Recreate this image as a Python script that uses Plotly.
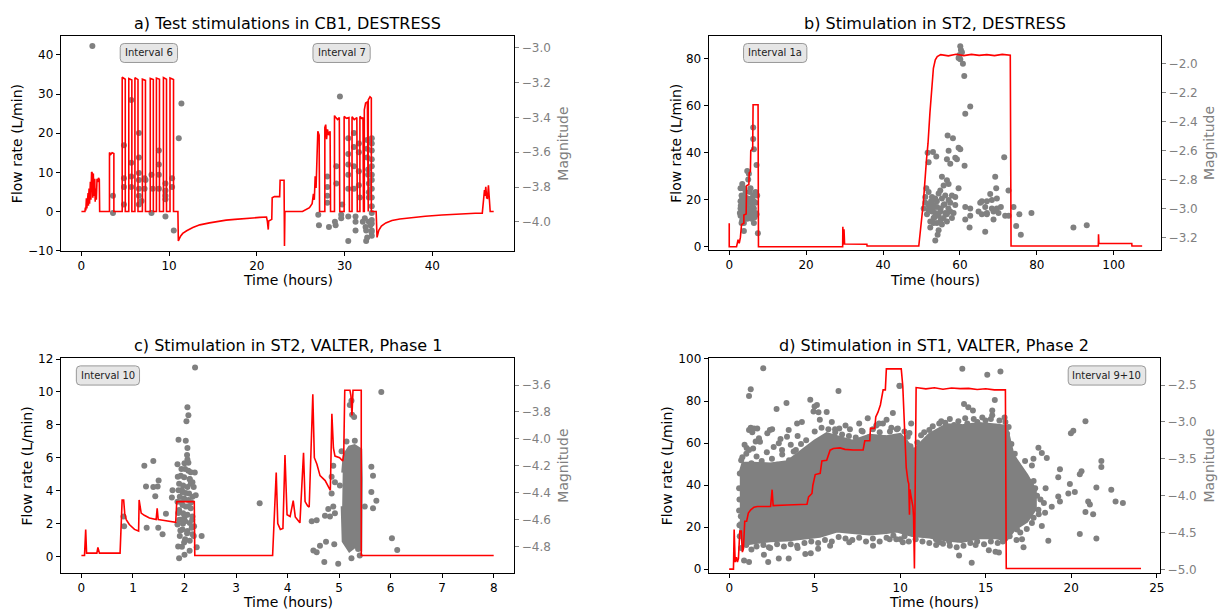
import plotly.graph_objects as go

W, H = 1221, 612

# ---------------- data ----------------
titles = ["a) Test stimulations in CB1, DESTRESS", "b) Stimulation in ST2, DESTRESS",
          "c) Stimulation in ST2, VALTER, Phase 1", "d) Stimulation in ST1, VALTER, Phase 2"]
interval_labels = ["Interval 6", "Interval 7", "Interval 1a", "Interval 10", "Interval 9+10"]
x_label = "Time (hours)"
flow_label = "Flow rate (L/min)"
mag_label = "Magnitude"

# panel a: flow rate (time h, L/min)
a_flow = [(0,0),(0.4,0),(0.45,1.0),(0.5,0.3),(0.57,3.4),(0.62,0.8),(0.76,4.7),(0.8,1.5),(0.87,5.9),(0.93,2.0),
          (1.02,7.6),(1.08,3.0),(1.16,10.1),(1.25,9.8),(1.3,3.5),(1.36,9.7),(1.42,4.0),(1.52,8.4),(1.57,2.5),
          (1.63,5.9),(1.7,3.0),(1.78,8.4),(1.85,7.5),(1.95,8.6),(2.04,8.2),(2.08,0),(3.2,0),(3.2,15.1),(3.35,14.6),
          (3.5,15.0),(3.7,14.8),(3.7,0),
          (4.65,0),(4.65,34.3),(4.8,34.0),(5.0,33.8),(5.0,0),
          (5.4,0),(5.4,34.0),(5.55,33.8),(5.75,33.6),(5.75,0),
          (6.1,0),(6.1,34.2),(6.3,33.9),(6.45,33.7),(6.45,0),
          (6.95,0),(6.95,33.8),(7.1,33.6),(7.3,33.5),(7.3,0),
          (7.85,0),(7.85,34.0),(8.0,33.8),(8.2,33.7),(8.2,0),
          (8.55,0),(8.55,34.1),(8.7,33.9),(8.9,33.8),(8.9,0),
          (9.35,0),(9.35,34.2),(9.5,34.0),(9.7,33.8),(9.7,0),
          (10.1,0),(10.1,34.1),(10.3,33.9),(10.5,33.7),(10.5,0),
          (11.0,0),(11.05,-7.5),(11.3,-6.3),(11.55,-5.6),(12.0,-4.9),(12.7,-4.1),(13.5,-3.4),(14.6,-2.9),
          (15.5,-2.5),(16.5,-2.2),(17.5,-2.0),(18.4,-1.8),(19.5,-1.65),(20.3,-1.5),(21.1,-1.4),(21.2,-2.5),
          (21.3,-4.6),(21.35,-2.4),(21.7,-2.0),(21.75,3.5),(22.0,3.8),(22.6,3.8),(22.65,8.0),(23.1,8.0),
          (23.15,-8.8),(23.2,0),(25.2,0),(25.6,0.5),(26.0,1.0),(26.3,2.0),(26.45,4.5),(26.55,3.0),(26.65,9.0),
          (26.75,6.0),(26.85,15.0),(26.95,20.5),(27.1,19.5),(27.15,0),
          (27.75,0),(27.75,21.5),(27.85,22.2),(27.95,18.5),(28.05,21.0),(28.2,19.5),(28.35,20.5),(28.4,0),
          (28.85,0),(28.85,24.5),(29.0,24.0),(29.2,23.5),(29.4,24.0),(29.45,0),
          (29.95,0),(29.95,24.3),(30.2,23.8),(30.5,24.0),(30.55,0),
          (30.85,0),(30.85,24.2),(31.1,23.5),(31.4,24.0),(31.45,0),
          (31.75,0),(31.75,24.3),(31.95,23.8),(32.1,24.0),(32.15,0),
          (32.25,0),(32.25,26.0),(32.4,27.7),(32.6,28.0),(32.62,0),
          (32.7,0),(32.7,28.5),(32.9,29.3),(33.05,29.0),(33.05,0),
          (33.6,0),(33.7,-6.6),(33.9,-4.8),(34.2,-3.7),(34.7,-2.9),(35.4,-2.3),(36.3,-1.9),(37.3,-1.6),
          (39.2,-1.2),(41.1,-0.9),(43.0,-0.6),(44.9,-0.45),(45.7,-0.4),(45.8,2.0),(45.95,5.5),(46.0,4.0),
          (46.1,6.3),(46.2,3.5),(46.3,3.4),(46.4,6.7),(46.5,3.0),(46.6,0),(47.0,0)]

# panel a: events (time h, magnitude)
a_events = [(1.25,-2.99),(3.6,-3.85),(3.6,-3.95),(4.85,-3.56),(4.85,-3.75),(4.85,-3.80),(4.85,-3.90),
            (5.68,-3.30),(5.68,-3.66),(5.68,-3.74),(5.68,-3.80),(6.55,-3.49),(6.55,-3.63),(6.55,-3.72),
            (6.55,-3.76),(6.55,-3.81),(6.55,-3.85),(6.55,-3.90),(6.86,-3.88),(7.2,-3.75),(7.2,-3.81),
            (7.31,-3.76),(7.99,-3.73),(7.99,-3.95),(8.14,-3.81),(8.83,-3.59),(8.83,-3.67),(8.83,-3.73),
            (8.83,-3.81),(9.58,-3.78),(9.58,-3.82),(9.58,-3.85),(9.58,-3.87),(9.58,-3.97),(10.34,-3.75),
            (10.34,-3.80),(10.53,-4.05),(11.1,-3.52),(11.4,-3.32),
            (27.0,-3.96),(27.08,-4.02),(28.03,-3.74),(28.03,-3.80),(28.03,-3.85),(28.03,-3.89),(28.22,-4.03),
            (28.9,-4.0),(28.98,-4.02),(29.47,-3.28),(29.06,-3.68),(29.06,-3.78),(29.62,-3.96),(29.62,-3.98),
            (29.73,-3.90),(30.42,-3.52),(30.42,-3.61),(30.42,-3.67),(30.42,-3.73),(30.42,-3.81),(30.42,-3.97),
            (30.42,-4.11),(31.06,-3.49),(31.06,-3.57),(31.06,-3.68),(31.06,-3.81),(31.25,-3.97),(31.25,-4.0),
            (31.25,-4.05),(31.63,-3.55),(31.63,-3.60),(31.63,-3.71),(31.63,-3.79),(31.74,-3.86),(32.08,-4.0),
            (32.31,-3.98),(32.39,-4.03),(32.46,-4.11),(32.58,-4.09),(32.46,-4.05),(32.58,-3.53),(32.58,-3.58),
            (32.58,-3.63),(32.69,-3.70),(32.69,-3.73),(32.77,-3.78),(32.77,-3.83),(32.77,-3.86),(33.1,-3.52),
            (33.1,-3.55),(33.1,-3.59),(33.1,-3.64),(33.1,-3.68),(33.1,-3.73),(33.1,-3.76),(33.1,-3.81),
            (33.1,-3.86),(33.1,-3.91),(33.1,-3.95),(33.1,-3.99),(33.1,-4.01),(33.1,-4.05),(33.1,-4.08),
            (32.95,-4.02),(33.07,-4.06),(32.77,-4.0)]

# panel b
b_flow = [(0,10),(0,0),(1.9,0),(2.0,1),(2.3,3),(2.6,1.5),(2.9,4),(3.2,9.5),(3.8,10),(3.8,13.5),(4.4,14),
          (4.5,26),(5.1,26.5),(5.2,31.5),(5.5,32),(5.6,41),(6.1,41.5),(6.2,60.5),(7.5,60.5),(7.6,0),(29.5,0),
          (29.55,8.5),(29.6,1),(29.7,8.0),(29.75,1.5),(29.85,7.5),(30.0,1.2),(35.8,1.1),(35.85,0.3),(49.3,0.3),
          (49.8,8),(50.5,19),(51.3,37),(51.7,44),(52.2,57),(52.7,67),(53.1,76),(53.6,79.6),(54.1,81),(55.0,81.8),
          (57.0,81.3),(59.0,82.0),(61.0,81.4),(63.0,81.9),(65.0,81.5),(67.0,81.8),(69.0,81.4),(71.0,81.9),
          (73.1,81.6),(73.3,0.3),(96.0,0.4),(96.05,5.3),(96.15,1.5),(104.7,1.4),(104.75,0.3),(107.4,0.3)]

b_events = [(6.23,-2.44),(6.23,-2.52),(6.41,-2.59),(7.1,-2.70),(4.68,-2.74),(5.11,-2.76),(4.94,-2.80),
            (3.38,-2.83),(3.81,-2.86),(3.2,-2.91),(2.94,-2.95),(3.38,-2.975),(3.81,-2.975),(4.24,-2.95),
            (4.68,-2.94),(5.11,-2.96),(5.54,-2.95),(5.97,-2.94),(6.41,-2.95),(6.84,-2.96),(2.94,-3.0),
            (3.38,-3.02),(3.81,-3.04),(4.24,-3.0),(4.68,-3.03),(5.11,-3.01),(5.54,-3.02),(5.97,-2.99),
            (6.41,-3.0),(6.84,-3.03),(7.1,-3.04),(2.94,-3.05),(3.38,-3.08),(3.81,-3.10),(4.68,-3.07),
            (5.54,-3.05),(5.97,-3.04),(6.41,-3.10),(3.81,-3.155),(7.27,-2.91),(6.84,-2.885),(6.23,-2.91),
            (7.45,-3.17),(5.54,-2.86),(5.97,-2.93),(5.37,-2.885),(3.38,-2.93),(4.24,-2.885),(2.77,-3.03),
            (3.64,-2.99),(4.5,-2.975),(3.2,-3.10),(2.94,-2.86),(4.85,-2.93),(3.0,-2.98),(3.6,-3.06),
            (4.0,-3.02),(4.4,-3.06),(5.3,-3.0),(5.8,-3.07),(6.6,-3.06),(4.1,-2.92),(6.0,-2.97),
            (60.09,-1.88),(60.26,-1.905),(60.52,-1.92),(59.91,-1.94),(59.65,-1.96),(60.09,-1.97),(60.78,-2.0),
            (61.13,-2.085),(62.68,-2.295),(61.39,-2.345),(56.8,-2.495),(58.18,-2.515),(59.65,-2.58),
            (60.09,-2.59),(57.06,-2.60),(52.99,-2.61),(51.6,-2.615),(53.85,-2.64),(56.62,-2.66),(58.79,-2.65),
            (59.22,-2.66),(57.49,-2.69),(51.86,-2.68),(61.21,-2.705),(71.52,-2.645),(69.18,-2.78),(55.32,-2.78),
            (56.62,-2.805),(55.76,-2.84),(57.06,-2.83),(51.26,-2.86),(54.89,-2.875),(59.65,-2.86),(69.44,-2.86),
            (72.64,-2.875),(51.86,-2.885),(54.46,-2.896),(56.19,-2.91),(57.92,-2.91),(58.79,-2.92),(67.88,-2.90),
            (52.73,-2.92),(53.59,-2.93),(55.32,-2.93),(57.06,-2.94),(65.71,-2.95),(67.01,-2.95),(68.31,-2.94),
            (69.61,-2.93),(51.0,-2.96),(51.86,-2.975),(53.16,-2.975),(54.03,-2.99),(55.76,-2.975),(57.49,-2.96),
            (58.79,-2.975),(61.39,-2.99),(62.68,-3.0),(65.28,-2.96),(66.58,-2.99),(68.31,-3.0),(69.61,-3.0),
            (70.65,-2.99),(73.94,-2.99),(51.86,-3.01),(52.73,-3.02),(53.59,-3.03),(54.89,-3.02),(56.19,-3.03),
            (57.49,-3.02),(58.35,-3.03),(64.85,-3.02),(65.71,-3.04),(67.01,-3.03),(68.74,-3.02),(70.04,-3.03),
            (72.68,-3.05),(75.45,-3.04),(78.61,-3.03),(51.43,-3.04),(53.16,-3.065),(54.46,-3.05),(55.76,-3.065),
            (56.62,-3.09),(57.92,-3.065),(61.39,-3.075),(62.68,-3.05),(67.01,-3.04),(68.74,-3.075),(71.77,-3.05),
            (52.29,-3.09),(54.03,-3.10),(55.32,-3.11),(62.51,-3.13),(66.58,-3.16),(74.63,-3.12),(75.84,-3.18),
            (54.46,-3.15),(54.2,-3.18),(53.59,-3.22),(89.52,-3.13),(92.99,-3.115),(50.57,-3.0),(51.0,-2.92),
            (52.29,-3.13),(53.16,-3.10),(52.0,-2.99),(53.0,-3.0),(54.0,-2.95),(55.0,-3.0),(56.0,-2.97),
            (57.0,-3.0),(53.4,-3.06),(55.0,-3.08),(56.6,-3.04),(52.5,-2.95)]

# panel c
c_flow = [(0,0.06),(0.06,0.06),(0.083,1.64),(0.1,0.2),(0.3,0.2),(0.32,0.55),(0.35,0.2),(0.75,0.2),(0.79,3.43),
          (0.82,3.43),(0.84,2.63),(0.87,2.24),(0.93,1.94),(1.03,1.64),(1.11,1.54),(1.12,3.43),(1.16,2.63),
          (1.22,2.5),(1.32,2.34),(1.45,2.24),(1.47,2.93),(1.49,2.24),(1.58,2.2),(1.7,2.14),(1.83,2.08),
          (1.85,3.33),(2.19,3.33),(2.2,0.06),(3.71,0.06),(3.78,5.1),(3.81,2.0),(3.86,1.64),(3.91,1.7),
          (3.95,6.16),(3.99,2.53),(4.05,2.43),(4.11,3.39),(4.15,2.4),(4.21,2.14),(4.24,2.04),(4.31,6.3),
          (4.34,3.33),(4.39,3.07),(4.42,3.0),(4.49,9.86),(4.52,6.0),(4.57,5.6),(4.63,4.91),(4.73,4.61),
          (4.79,4.22),(4.83,4.02),(4.86,8.67),(4.89,6.59),(4.92,6.1),(5.01,6.0),(5.07,5.8),(5.09,6.2),
          (5.11,10.1),(5.21,10.1),(5.23,9.76),(5.25,8.57),(5.27,10.1),(5.43,10.1),(5.43,0.06),(8.0,0.06)]

c_events = [(2.205,-3.47),(2.057,-3.765),(2.076,-3.825),(2.038,-3.869),(1.884,-4.007),(2.025,-4.014),
            (2.057,-4.067),(2.057,-4.152),(2.076,-4.176),(1.864,-4.188),(1.941,-4.224),(2.012,-4.224),
            (2.076,-4.236),(2.121,-4.248),(1.928,-4.273),(1.993,-4.285),(2.102,-4.297),(2.154,-4.321),
            (1.896,-4.333),(1.974,-4.345),(2.057,-4.357),(2.121,-4.333),(2.179,-4.357),(1.768,-4.381),
            (1.884,-4.381),(1.961,-4.394),(2.025,-4.401),(2.089,-4.406),(2.218,-4.418),(1.909,-4.43),
            (1.993,-4.442),(2.076,-4.454),(2.154,-4.43),(1.864,-4.466),(1.961,-4.49),(2.025,-4.502),
            (2.121,-4.515),(1.896,-4.527),(1.974,-4.551),(2.057,-4.563),(2.154,-4.575),(1.928,-4.6),
            (2.012,-4.612),(2.102,-4.624),(2.186,-4.648),(1.864,-4.636),(1.961,-4.672),(2.057,-4.684),
            (2.154,-4.708),(1.909,-4.72),(2.012,-4.744),(2.102,-4.756),(1.993,-4.769),(1.877,-4.798),
            (1.896,-4.885),(2.237,-4.805),(2.333,-4.72),(1.221,-4.2),(1.395,-4.164),(1.498,-4.309),
            (1.479,-4.353),(1.395,-4.357),(1.253,-4.353),(1.433,-4.425),(0.816,-4.575),(0.829,-4.648),
            (1.64,-4.556),(1.266,-4.66),(1.491,-4.66),(1.575,-4.708),(1.755,-4.435),
            (1.88,-4.55),(2.0,-4.58),(2.15,-4.6),(1.92,-4.68),(2.05,-4.7),(2.18,-4.72),(1.95,-4.8),
            (2.1,-4.83),(2.0,-4.86),(1.9,-4.6),(2.08,-4.5),(1.95,-4.38),(2.1,-4.3),(2.2,-4.25),(1.87,-4.28),
            (2.05,-4.12),(2.0,-4.18),(1.94,-4.47),(2.13,-4.47),(1.97,-4.63),(2.14,-4.66),
            (5.819,-3.651),(3.459,-4.478),(5.208,-3.748),(5.24,-3.716),(5.253,-3.82),(5.292,-3.837),
            (5.144,-4.019),(5.305,-4.014),(5.208,-4.091),(5.369,-4.091),(5.048,-4.091),(5.626,-4.207),
            (5.658,-4.273),(4.887,-4.2),(4.855,-4.28),(4.919,-4.321),(5.015,-4.345),(5.626,-4.394),
            (5.723,-4.459),(5.498,-4.502),(5.658,-4.515),(4.855,-4.406),(4.887,-4.502),(4.79,-4.521),
            (4.726,-4.57),(4.823,-4.575),(4.919,-4.551),(4.469,-4.611),(4.565,-4.604),(4.501,-4.829),
            (4.565,-4.841),(4.746,-4.764),(4.906,-4.781),(4.629,-4.793),(4.713,-4.914),(4.983,-4.926),
            (5.24,-4.885),(5.401,-4.866),(5.369,-4.817),(6.025,-4.737),(6.128,-4.824)]
# dense column of events in panel c (outline of the solid cluster)
c_cluster = [(5.07,-4.25),(5.1,-4.12),(5.2,-4.06),(5.3,-4.05),(5.42,-4.08),(5.43,-4.3),(5.42,-4.82),
             (5.3,-4.80),(5.2,-4.83),(5.08,-4.76),(5.06,-4.5)]

# panel d
d_flow = [(0,0),(0.25,0),(0.29,18.9),(0.35,3.4),(0.42,5.7),(0.48,3.4),(0.54,5.0),(0.62,18.1),(0.71,18.1),
          (0.77,8.1),(0.83,9.6),(0.91,22.8),(1.02,22.8),(1.12,26.7),(1.26,28.2),(1.45,29.5),(1.64,29.8),
          (2.42,29.8),(2.51,37.8),(2.57,30.2),(3.39,30.5),(4.55,30.9),(4.64,34.4),(4.84,36.0),(4.89,39.8),
          (5.03,45.0),(5.32,45.6),(5.42,51.5),(5.7,51.8),(5.8,54.6),(5.9,56.6),(6.09,57.4),(6.48,57.7),
          (6.77,57.0),(7.25,56.7),(7.83,56.7),(7.93,61.1),(8.22,61.1),(8.26,67.0),(8.51,67.0),(8.57,72.4),
          (8.7,74.7),(8.84,78.1),(9.0,85.3),(9.13,85.3),(9.19,95.3),(10.06,95.3),(10.15,87.1),(10.25,67.0),
          (10.31,57.7),(10.35,48.4),(10.45,42.0),(10.5,40.6),(10.54,25.9),(10.57,38.0),(10.64,34.4),
          (10.74,29.8),(10.78,25.0),(10.83,0.3),(10.93,86.4),(11.5,85.8),(12.0,86.3),(12.5,85.6),(13.0,86.2),
          (13.5,85.9),(14.0,86.0),(14.5,85.5),(15.0,85.8),(15.5,85.3),(16.15,85.3),(16.2,0.3),(24.08,0.3)]

# outline of the solid, dense event cloud in panel d (time h, magnitude)
d_cluster = [(0.62,-3.7),(0.8,-3.56),(1.4,-3.56),(2.4,-3.57),(3.4,-3.54),(4.3,-3.38),(5.0,-3.26),(5.7,-3.16),
             (6.3,-3.2),(7.2,-3.26),(8.2,-3.18),(9.2,-3.2),(10.0,-3.17),(10.8,-3.38),(11.7,-3.17),(12.7,-3.04),
             (13.6,-3.05),(14.6,-3.02),(15.6,-3.04),(16.2,-3.06),(16.6,-3.45),(17.4,-3.72),(17.9,-3.92),
             (17.9,-4.18),(17.4,-4.35),(16.7,-4.45),(16.2,-4.6),(15.6,-4.57),(14.6,-4.57),(13.6,-4.62),
             (12.7,-4.6),(11.7,-4.56),(10.7,-4.54),(9.8,-4.48),(9.2,-4.5),(8.2,-4.52),(7.2,-4.5),(6.3,-4.48),
             (5.3,-4.55),(4.3,-4.58),(3.4,-4.6),(2.4,-4.61),(1.4,-4.64),(0.8,-4.66),(0.62,-4.35)]
d_events = [(1.99,-2.272),(1.26,-2.558),(1.16,-2.647),(1.16,-3.11),(1.26,-3.08),(1.45,-3.09),(1.64,-3.09),
            (1.35,-3.14),(0.77,-3.478),(1.02,-3.353),(1.16,-3.38),(1.55,-3.265),(1.74,-3.22),(2.23,-3.155),
            (2.38,-3.11),(2.51,-3.1),(2.77,-2.823),(3.35,-2.743),(2.9,-3.288),(3.09,-3.38),(3.38,-3.2),
            (3.97,-3.02),(4.25,-3.0),(3.48,-3.11),(3.77,-3.4),(4.74,-2.70),(4.93,-2.86),(5.13,-2.77),
            (5.22,-2.87),(4.99,-2.79),(5.7,-2.867),(6.39,-2.58),(6.19,-3.1),(6.44,-3.09),(7.06,-3.1),
            (7.74,-3.12),(8.22,-3.2),(8.76,-3.02),(8.99,-3.02),(9.09,-3.22),(9.48,-3.08),(9.57,-3.37),
            (9.96,-2.51),(9.57,-2.88),(10.25,-3.13),(10.44,-3.2),
            (0.87,-4.88),(1.16,-4.9),(2.03,-4.8),(2.28,-4.9),(2.9,-4.85),(3.48,-4.85),(2.32,-4.7),(3.97,-4.68),
            (4.45,-4.79),(4.77,-4.78),(5.2,-4.72),(5.9,-4.68),(7.02,-4.63),(8.41,-4.68),(9.38,-4.59),
            (10.15,-4.63),(0.68,-4.28),(0.87,-4.4),
            (13.63,-2.279),(15.09,-2.359),(15.86,-2.315),(9.96,-2.514),(13.73,-2.757),(13.98,-2.80),
            (14.25,-2.845),(15.53,-2.703),(15.38,-2.845),(15.38,-2.91),(15.48,-3.154),(19.98,-3.154),
            (20.12,-3.12),(20.83,-2.99),(21.76,-3.53),(21.76,-3.61),(21.47,-3.89),(22.34,-3.92),(22.59,-4.08),
            (23.02,-4.1),(20.99,-4.08),(21.09,-4.12),(20.83,-4.22),(21.28,-4.25),(20.5,-4.52),(21.47,-4.58),
            (18.66,-4.61),(17.21,-4.7),(17.7,-4.37),(18.08,-4.19),(18.47,-4.23),(18.86,-4.15),(19.24,-4.01),
            (19.34,-4.08),(19.83,-3.97),(20.21,-3.95),(20.5,-3.71),(20.6,-3.67),(19.92,-3.84),(19.34,-3.64),
            (19.24,-3.75),(18.57,-3.49),(18.28,-3.42),(18.08,-3.35),(17.79,-3.5),(17.7,-3.59),(17.89,-3.9),
            (17.6,-3.99),(17.5,-4.08),(17.31,-4.15),(16.92,-4.13),(16.83,-4.46),(17.02,-4.5),(17.12,-4.59),
            (18.28,-4.41),(14.41,-4.67),(14.18,-4.91),(13.44,-4.81),(15.18,-4.74),(15.57,-4.76),(15.77,-4.77),
            (13.34,-4.59),(12.09,-4.59),(12.28,-4.63),(12.86,-4.62),(11.7,-4.52),(11.12,-4.48),(10.25,-4.55),
            (9.77,-4.59),(9.96,-4.46),(11.22,-3.18),(11.7,-3.11),(12.28,-3.02),(12.63,-3.01),(13.15,-3.04),
            (13.92,-3.02),(14.51,-3.0),(14.99,-2.98),(16.15,-3.0),(16.34,-3.07),(16.25,-3.16),(10.64,-3.02),
            (9.86,-3.09),(10.54,-3.15),
            # points speckling the edges of the dense cloud
            (0.7,-3.52),(1.0,-3.43),(1.3,-3.56),(1.6,-3.47),(1.9,-3.53),(2.2,-3.41),(2.5,-3.5),(2.8,-3.58),
            (3.1,-3.44),(3.5,-3.52),(3.9,-3.38),(4.2,-3.3),(4.5,-3.25),(0.9,-3.31),(1.4,-3.36),(1.8,-3.27),
            (2.6,-3.34),(3.0,-3.23),(3.6,-3.31),(4.0,-3.19),(5.0,-3.13),(5.4,-3.08),(5.8,-3.1),(6.2,-3.14),
            (6.6,-3.17),(7.0,-3.19),(7.4,-3.21),(7.8,-3.13),(8.4,-3.1),(8.8,-3.14),(9.4,-3.13),(9.8,-3.1),
            (10.3,-3.28),(10.6,-3.33),(5.3,-2.97),(6.0,-3.0),(6.8,-3.05),(7.6,-3.02),(8.1,-2.95),(8.6,-3.05),
            (9.2,-2.97),(11.0,-3.28),(11.4,-3.14),(11.9,-3.06),(12.4,-2.99),(12.9,-2.96),(13.4,-2.99),
            (13.8,-2.95),(14.3,-2.96),(14.8,-2.94),(15.3,-2.96),(15.8,-2.98),(16.1,-2.94),(16.5,-3.3),
            (16.7,-3.43),(16.9,-3.6),(17.1,-3.7),(17.3,-3.53),(17.6,-3.85),(17.8,-3.8),(18.0,-4.0),(18.2,-4.05),
            (16.6,-4.3),(17.0,-4.35),(17.4,-4.45),(17.8,-4.3),(18.1,-4.25),(18.4,-4.1),(18.5,-3.9),(16.4,-4.55),
            (16.8,-4.6),(0.7,-4.71),(1.0,-4.67),(1.3,-4.73),(1.6,-4.69),(2.0,-4.67),(2.4,-4.71),(2.8,-4.66),
            (3.2,-4.69),(3.6,-4.66),(4.0,-4.71),(4.4,-4.64),(4.8,-4.62),(5.2,-4.64),(5.6,-4.6),(6.0,-4.62),
            (6.4,-4.56),(6.8,-4.58),(7.2,-4.6),(7.6,-4.57),(8.0,-4.62),(8.4,-4.58),(8.8,-4.62),(9.2,-4.57),
            (9.6,-4.54),(10.0,-4.59),(10.5,-4.62),(10.9,-4.59),(11.3,-4.62),(11.7,-4.64),(12.1,-4.67),
            (12.5,-4.65),(12.9,-4.68),(13.3,-4.7),(13.7,-4.68),(14.1,-4.64),(14.5,-4.62),(14.9,-4.66),
            (15.3,-4.62),(15.7,-4.64),(16.0,-4.62),(0.58,-3.9),(0.6,-4.05),(0.58,-4.2),(0.6,-4.4),(0.62,-4.55),
            (0.62,-3.7)]

# ---------------- layout constants ----------------
# plot-area boxes in pixels: (left, right, top, bottom)
boxes = [(61, 516, 31, 250), (711, 1165, 31, 249), (61, 516, 360, 579), (711, 1164, 360, 579)]
x_ranges = [(-2.35, 49.35), (-5.35, 112.35), (-0.4, 8.4), (-1.2, 25.2)]
x_dticks = [10, 20, 1, 5]
flow_ranges = [(-10, 44.75), (-1.25, 89.6), (-0.99, 12.04), (-1.7, 100.3)]
flow_dticks = [10, 20, 2, 20]
mag_ranges = [(-4.166, -2.934), (-3.284, -1.811), (-4.993, -3.402), (-5.044, -2.138)]
mag_dticks = [0.2, 0.2, 0.2, 0.5]
flow_label_x = [16.7, 678, 27, 669]
mag_label_x = [564, 1213, 564, 1213]
x_label_y = [280, 280, 609, 609]
# interval boxes (left, right, top, bottom) in pixels
interval_boxes = [(120.6, 178.1, 38.3, 57.7), (314, 371.4, 38.3, 57.7), (746, 809.5, 38.3, 57.7),
                  (76.6, 140, 367.7, 387.3), (1071.7, 1149.5, 367.7, 387.3)]

RED = "#ff0000"
GRAY = "#808080"
FONT = "DejaVu Sans"


def px(x):
    return x / W


def py(y):
    return 1 - y / H


fig = go.Figure()

flows = [a_flow, b_flow, c_flow, d_flow]
events = [a_events, b_events, c_events, d_events]
clusters = [None, None, c_cluster, d_cluster]

layout_axes = {}
for i in range(4):
    n = i + 1
    xname = "x" if n == 1 else f"x{n}"
    ymag = "y" if n == 1 else f"y{2 * n - 1}"
    yflow = f"y{2 * n}"
    xkey = "xaxis" if n == 1 else f"xaxis{n}"
    ymagkey = "yaxis" if n == 1 else f"yaxis{2 * n - 1}"
    yflowkey = f"yaxis{2 * n}"
    l, r, t, b = boxes[i]

    if clusters[i] is not None:
        ct = [p[0] for p in clusters[i]]
        cm = [p[1] for p in clusters[i]]
        fig.add_trace(go.Scatter(x=ct, y=cm, mode="lines", fill="toself", fillcolor=GRAY,
                                 line=dict(width=3, color=GRAY), xaxis=xname, yaxis=ymag,
                                 showlegend=False, hoverinfo="skip"))
    et = [p[0] for p in events[i]]
    em = [p[1] for p in events[i]]
    fig.add_trace(go.Scatter(x=et, y=em, mode="markers", marker=dict(size=6, color=GRAY),
                             xaxis=xname, yaxis=ymag, showlegend=False))
    ft = [p[0] for p in flows[i]]
    fq = [p[1] for p in flows[i]]
    fig.add_trace(go.Scatter(x=ft, y=fq, mode="lines", line=dict(color=RED, width=1.6),
                             xaxis=xname, yaxis=yflow, showlegend=False))

    layout_axes[xkey] = dict(domain=[px(l), px(r)], anchor=ymag, range=list(x_ranges[i]),
                             dtick=x_dticks[i], tick0=0, showline=True, mirror=True,
                             linecolor="black", linewidth=1, ticks="outside", ticklen=4,
                             tickcolor="black", showgrid=False, zeroline=False,
                             tickfont=dict(size=12, color="black"))
    layout_axes[ymagkey] = dict(domain=[py(b), py(t)], anchor=xname, side="right",
                                range=list(mag_ranges[i]), dtick=mag_dticks[i], tick0=0,
                                tickformat=".1f", showline=True, linecolor="black", linewidth=1,
                                ticks="outside", ticklen=4, tickcolor=GRAY, showgrid=False,
                                zeroline=False, tickfont=dict(size=12, color=GRAY))
    layout_axes[yflowkey] = dict(overlaying=ymag, anchor=xname, side="left",
                                 range=list(flow_ranges[i]), dtick=flow_dticks[i], tick0=0,
                                 showline=True, linecolor="black", linewidth=1, ticks="outside",
                                 ticklen=4, tickcolor="black", showgrid=False, zeroline=False,
                                 tickfont=dict(size=12, color="black"))

annotations = []
shapes = []
for i in range(4):
    l, r, t, b = boxes[i]
    cx = (l + r) / 2
    cy = (t + b) / 2
    annotations.append(dict(text=titles[i], x=px(cx), y=py(t - 13), xref="paper", yref="paper",
                            xanchor="center", yanchor="middle", showarrow=False,
                            font=dict(size=16, color="black", family=FONT)))
    annotations.append(dict(text=x_label, x=px(cx), y=py(x_label_y[i]), xref="paper", yref="paper",
                            xanchor="center", yanchor="middle", showarrow=False, borderpad=0,
                            font=dict(size=14, color="black", family=FONT)))
    annotations.append(dict(text=flow_label, x=px(flow_label_x[i]), y=py(cy), xref="paper",
                            yref="paper", xanchor="center", yanchor="middle", textangle=-90,
                            showarrow=False, font=dict(size=14, color="black", family=FONT)))
    annotations.append(dict(text=mag_label, x=px(mag_label_x[i]), y=py(cy), xref="paper",
                            yref="paper", xanchor="center", yanchor="middle", textangle=-90,
                            showarrow=False, font=dict(size=14, color=GRAY, family=FONT)))


def rbox_path(x0, x1, y0, y1, rr=4):
    X, Y = px, py
    return (f"M {X(x0 + rr)},{Y(y0)} L {X(x1 - rr)},{Y(y0)} Q {X(x1)},{Y(y0)} {X(x1)},{Y(y0 + rr)} "
            f"L {X(x1)},{Y(y1 - rr)} Q {X(x1)},{Y(y1)} {X(x1 - rr)},{Y(y1)} "
            f"L {X(x0 + rr)},{Y(y1)} Q {X(x0)},{Y(y1)} {X(x0)},{Y(y1 - rr)} "
            f"L {X(x0)},{Y(y0 + rr)} Q {X(x0)},{Y(y0)} {X(x0 + rr)},{Y(y0)} Z")


for lab, (x0, x1, y0, y1) in zip(interval_labels, interval_boxes):
    shapes.append(dict(type="path", xref="paper", yref="paper", path=rbox_path(x0, x1, y0, y1),
                       fillcolor="#e6e6e6", line=dict(color="#999999", width=1), layer="above"))
    annotations.append(dict(text=lab, x=px((x0 + x1) / 2), y=py((y0 + y1) / 2), xref="paper",
                            yref="paper", xanchor="center", yanchor="middle", showarrow=False,
                            font=dict(size=10, color="#222222", family=FONT)))

fig.update_layout(width=W, height=H, margin=dict(l=0, r=0, t=0, b=0), autosize=False,
                  paper_bgcolor="white", plot_bgcolor="white",
                  font=dict(family=FONT, size=12, color="black"),
                  annotations=annotations, shapes=shapes, showlegend=False, **layout_axes)

fig.write_html("out.html")
